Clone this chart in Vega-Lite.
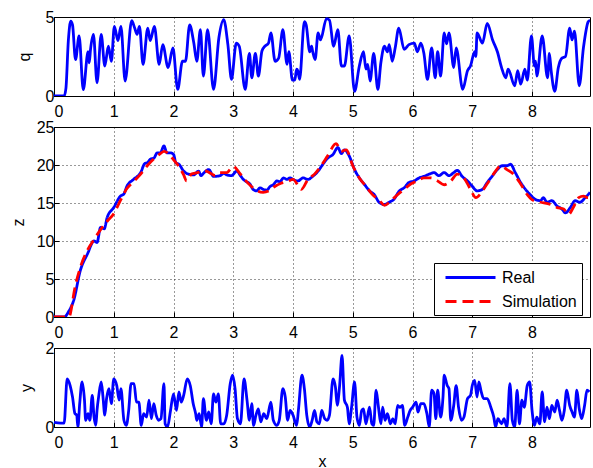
{
"$schema": "https://vega.github.io/schema/vega-lite/v6.json",
"padding": {"top": 8, "left": 9, "right": 0, "bottom": 0},
"bounds": "flush",
"spacing": 31,
"config": {
 "font": "Liberation Sans",
 "view": {"stroke": "#000000", "strokeWidth": 1},
 "axis": {"domain": false, "labelFont": "Liberation Sans", "labelFontSize": 16, "labelColor": "#000000", "titleFont": "Liberation Sans", "titleFontSize": 16, "titleFontWeight": "normal", "titleColor": "#000000", "grid": true, "gridColor": "#000000", "gridDash": [1, 3], "gridOpacity": 0.8, "tickColor": "#000000", "tickSize": -5},
 "axisX": {"labelPadding": 12},
 "axisY": {"labelPadding": 5},
 "legend": {"labelFont": "Liberation Sans", "labelFontSize": 16, "labelColor": "#000000"}
},
"datasets": {
 "q": [
  {"x":0,"q":0},{"x":0.17,"q":0},{"x":0.2,"q":0.5},{"x":0.24,"q":3.5},{"x":0.28,"q":4.73},{"x":0.31,"q":4.5},{"x":0.36,"q":2.3},{"x":0.42,"q":3.8},{"x":0.49,"q":0.4},{"x":0.57,"q":2.8},{"x":0.59,"q":2.1},{"x":0.61,"q":2.9},{"x":0.66,"q":3.9},{"x":0.72,"q":0.84},{"x":0.79,"q":3.9},{"x":0.85,"q":1.9},{"x":0.91,"q":3.15},{"x":0.96,"q":2.2},{"x":1.01,"q":4.4},{"x":1.07,"q":3.5},{"x":1.12,"q":4.4},{"x":1.19,"q":0.95},{"x":1.3,"q":4.77},{"x":1.35,"q":4.3},{"x":1.39,"q":3.9},{"x":1.43,"q":4.4},{"x":1.49,"q":2.0},{"x":1.57,"q":4.3},{"x":1.61,"q":3.5},{"x":1.68,"q":4.4},{"x":1.76,"q":2.0},{"x":1.82,"q":3.25},{"x":1.91,"q":1.8},{"x":1.99,"q":3.05},{"x":2.07,"q":0.42},{"x":2.15,"q":2.2},{"x":2.2,"q":2.2},{"x":2.27,"q":4.5},{"x":2.34,"q":3.35},{"x":2.39,"q":2.2},{"x":2.45,"q":4.2},{"x":2.5,"q":1.26},{"x":2.57,"q":4.2},{"x":2.67,"q":0.42},{"x":2.76,"q":3.7},{"x":2.84,"q":4.83},{"x":2.91,"q":3.25},{"x":2.97,"q":1.05},{"x":3.05,"q":3.35},{"x":3.1,"q":3.15},{"x":3.2,"q":0.42},{"x":3.27,"q":2.7},{"x":3.31,"q":1.15},{"x":3.37,"q":2.7},{"x":3.42,"q":1.26},{"x":3.48,"q":2.85},{"x":3.53,"q":3.15},{"x":3.59,"q":3.35},{"x":3.63,"q":4.0},{"x":3.7,"q":2.2},{"x":3.76,"q":2.4},{"x":3.83,"q":4.2},{"x":3.9,"q":2.0},{"x":3.93,"q":2.8},{"x":3.99,"q":1.0},{"x":4.03,"q":1.0},{"x":4.06,"q":1.7},{"x":4.08,"q":1.6},{"x":4.11,"q":1.05},{"x":4.19,"q":4.7},{"x":4.22,"q":4.5},{"x":4.28,"q":2.8},{"x":4.31,"q":3.15},{"x":4.33,"q":2.8},{"x":4.37,"q":2.3},{"x":4.42,"q":4.0},{"x":4.46,"q":3.55},{"x":4.56,"q":4.9},{"x":4.61,"q":4.8},{"x":4.68,"q":3.15},{"x":4.75,"q":4.2},{"x":4.81,"q":1.9},{"x":4.86,"q":1.9},{"x":4.94,"q":3.8},{"x":5.03,"q":0.3},{"x":5.11,"q":1.9},{"x":5.18,"q":2.8},{"x":5.22,"q":1.7},{"x":5.25,"q":2.0},{"x":5.29,"q":0.95},{"x":5.35,"q":2.7},{"x":5.42,"q":0.42},{"x":5.47,"q":2.1},{"x":5.53,"q":3.15},{"x":5.58,"q":2.8},{"x":5.61,"q":3.25},{"x":5.66,"q":2.2},{"x":5.71,"q":3.05},{"x":5.77,"q":4.3},{"x":5.86,"q":2.95},{"x":5.94,"q":3.25},{"x":6.03,"q":3.35},{"x":6.08,"q":2.8},{"x":6.14,"q":3.35},{"x":6.19,"q":2.7},{"x":6.25,"q":1.05},{"x":6.32,"q":3.05},{"x":6.38,"q":1.15},{"x":6.42,"q":2.8},{"x":6.47,"q":1.26},{"x":6.53,"q":4.0},{"x":6.57,"q":3.3},{"x":6.61,"q":4.0},{"x":6.69,"q":1.8},{"x":6.73,"q":3.05},{"x":6.84,"q":0.42},{"x":6.92,"q":1.6},{"x":6.97,"q":1.9},{"x":7.04,"q":2.8},{"x":7.06,"q":2.5},{"x":7.08,"q":4.0},{"x":7.17,"q":3.35},{"x":7.25,"q":4.6},{"x":7.34,"q":3.55},{"x":7.42,"q":2.8},{"x":7.49,"q":1.8},{"x":7.56,"q":1.15},{"x":7.6,"q":1.7},{"x":7.71,"q":0.65},{"x":7.76,"q":1.6},{"x":7.81,"q":0.75},{"x":7.88,"q":1.7},{"x":7.92,"q":1.0},{"x":7.99,"q":3.8},{"x":8.04,"q":1.9},{"x":8.06,"q":2.2},{"x":8.08,"q":1.26},{"x":8.17,"q":3.8},{"x":8.26,"q":1.15},{"x":8.29,"q":2.7},{"x":8.32,"q":1.6},{"x":8.38,"q":0.3},{"x":8.44,"q":1.8},{"x":8.5,"q":2.4},{"x":8.56,"q":2.5},{"x":8.63,"q":4.3},{"x":8.67,"q":3.55},{"x":8.71,"q":4.1},{"x":8.79,"q":0.65},{"x":8.86,"q":3.05},{"x":8.94,"q":4.7},{"x":8.97,"q":4.8}
 ],
 "z": [
  {"x":0,"z":0,"series":"Real"},{"x":0.17,"z":0,"series":"Real"},{"x":0.25,"z":0.8,"series":"Real"},{"x":0.33,"z":2.2,"series":"Real"},{"x":0.44,"z":6.1,"series":"Real"},{"x":0.56,"z":8.3,"series":"Real"},{"x":0.67,"z":10.0,"series":"Real"},{"x":0.72,"z":9.8,"series":"Real"},{"x":0.78,"z":11.8,"series":"Real"},{"x":0.84,"z":11.6,"series":"Real"},{"x":0.89,"z":13.1,"series":"Real"},{"x":1.0,"z":14.4,"series":"Real"},{"x":1.11,"z":15.9,"series":"Real"},{"x":1.17,"z":16.2,"series":"Real"},{"x":1.22,"z":17.2,"series":"Real"},{"x":1.33,"z":18.1,"series":"Real"},{"x":1.45,"z":19.0,"series":"Real"},{"x":1.52,"z":20.2,"series":"Real"},{"x":1.56,"z":20.3,"series":"Real"},{"x":1.62,"z":20.8,"series":"Real"},{"x":1.67,"z":20.9,"series":"Real"},{"x":1.73,"z":21.6,"series":"Real"},{"x":1.78,"z":21.6,"series":"Real"},{"x":1.84,"z":22.5,"series":"Real"},{"x":1.89,"z":21.6,"series":"Real"},{"x":1.95,"z":21.6,"series":"Real"},{"x":2.0,"z":21.4,"series":"Real"},{"x":2.04,"z":20.3,"series":"Real"},{"x":2.09,"z":20.1,"series":"Real"},{"x":2.17,"z":19.2,"series":"Real"},{"x":2.25,"z":18.8,"series":"Real"},{"x":2.34,"z":18.7,"series":"Real"},{"x":2.42,"z":19.2,"series":"Real"},{"x":2.46,"z":18.6,"series":"Real"},{"x":2.5,"z":18.9,"series":"Real"},{"x":2.59,"z":19.4,"series":"Real"},{"x":2.67,"z":18.5,"series":"Real"},{"x":2.78,"z":18.6,"series":"Real"},{"x":2.84,"z":18.9,"series":"Real"},{"x":2.89,"z":18.7,"series":"Real"},{"x":2.97,"z":18.6,"series":"Real"},{"x":3.06,"z":19.2,"series":"Real"},{"x":3.12,"z":18.6,"series":"Real"},{"x":3.17,"z":18.1,"series":"Real"},{"x":3.22,"z":17.8,"series":"Real"},{"x":3.28,"z":17.5,"series":"Real"},{"x":3.33,"z":16.8,"series":"Real"},{"x":3.39,"z":16.6,"series":"Real"},{"x":3.45,"z":17.0,"series":"Real"},{"x":3.5,"z":16.8,"series":"Real"},{"x":3.56,"z":16.7,"series":"Real"},{"x":3.62,"z":17.2,"series":"Real"},{"x":3.67,"z":17.4,"series":"Real"},{"x":3.73,"z":17.9,"series":"Real"},{"x":3.78,"z":17.8,"series":"Real"},{"x":3.84,"z":18.3,"series":"Real"},{"x":3.9,"z":18.1,"series":"Real"},{"x":3.95,"z":18.3,"series":"Real"},{"x":4.0,"z":18.1,"series":"Real"},{"x":4.08,"z":17.9,"series":"Real"},{"x":4.17,"z":18.3,"series":"Real"},{"x":4.25,"z":18.1,"series":"Real"},{"x":4.33,"z":18.5,"series":"Real"},{"x":4.42,"z":19.2,"series":"Real"},{"x":4.5,"z":20.1,"series":"Real"},{"x":4.58,"z":20.9,"series":"Real"},{"x":4.67,"z":21.4,"series":"Real"},{"x":4.75,"z":22.3,"series":"Real"},{"x":4.81,"z":21.5,"series":"Real"},{"x":4.86,"z":22.0,"series":"Real"},{"x":4.94,"z":21.2,"series":"Real"},{"x":5.03,"z":19.4,"series":"Real"},{"x":5.11,"z":18.3,"series":"Real"},{"x":5.19,"z":17.5,"series":"Real"},{"x":5.28,"z":16.6,"series":"Real"},{"x":5.36,"z":16.1,"series":"Real"},{"x":5.44,"z":15.1,"series":"Real"},{"x":5.53,"z":14.8,"series":"Real"},{"x":5.61,"z":15.1,"series":"Real"},{"x":5.69,"z":15.5,"series":"Real"},{"x":5.78,"z":16.6,"series":"Real"},{"x":5.86,"z":17.0,"series":"Real"},{"x":5.94,"z":17.7,"series":"Real"},{"x":6.03,"z":17.9,"series":"Real"},{"x":6.11,"z":18.3,"series":"Real"},{"x":6.19,"z":18.5,"series":"Real"},{"x":6.28,"z":18.8,"series":"Real"},{"x":6.36,"z":19.0,"series":"Real"},{"x":6.44,"z":18.6,"series":"Real"},{"x":6.53,"z":19.0,"series":"Real"},{"x":6.61,"z":18.6,"series":"Real"},{"x":6.69,"z":19.0,"series":"Real"},{"x":6.75,"z":19.3,"series":"Real"},{"x":6.83,"z":18.5,"series":"Real"},{"x":6.92,"z":17.9,"series":"Real"},{"x":7.0,"z":17.2,"series":"Real"},{"x":7.08,"z":16.6,"series":"Real"},{"x":7.17,"z":16.8,"series":"Real"},{"x":7.25,"z":17.7,"series":"Real"},{"x":7.33,"z":18.5,"series":"Real"},{"x":7.42,"z":19.4,"series":"Real"},{"x":7.5,"z":19.9,"series":"Real"},{"x":7.58,"z":19.9,"series":"Real"},{"x":7.64,"z":20.1,"series":"Real"},{"x":7.72,"z":19.0,"series":"Real"},{"x":7.81,"z":17.7,"series":"Real"},{"x":7.89,"z":16.8,"series":"Real"},{"x":7.97,"z":16.1,"series":"Real"},{"x":8.05,"z":15.5,"series":"Real"},{"x":8.14,"z":15.3,"series":"Real"},{"x":8.19,"z":15.7,"series":"Real"},{"x":8.25,"z":15.1,"series":"Real"},{"x":8.33,"z":15.3,"series":"Real"},{"x":8.42,"z":14.6,"series":"Real"},{"x":8.5,"z":14.2,"series":"Real"},{"x":8.56,"z":13.7,"series":"Real"},{"x":8.64,"z":14.4,"series":"Real"},{"x":8.72,"z":15.3,"series":"Real"},{"x":8.8,"z":15.1,"series":"Real"},{"x":8.89,"z":15.7,"series":"Real"},{"x":8.97,"z":16.4,"series":"Real"},
  {"x":0,"z":0,"series":"Simulation"},{"x":0.25,"z":0,"series":"Simulation"},{"x":0.3,"z":1.5,"series":"Simulation"},{"x":0.33,"z":3.0,"series":"Simulation"},{"x":0.44,"z":6.5,"series":"Simulation"},{"x":0.56,"z":8.8,"series":"Simulation"},{"x":0.67,"z":10.2,"series":"Simulation"},{"x":0.78,"z":11.5,"series":"Simulation"},{"x":0.89,"z":12.6,"series":"Simulation"},{"x":1.0,"z":13.6,"series":"Simulation"},{"x":1.11,"z":15.3,"series":"Simulation"},{"x":1.22,"z":16.9,"series":"Simulation"},{"x":1.33,"z":17.8,"series":"Simulation"},{"x":1.45,"z":18.8,"series":"Simulation"},{"x":1.56,"z":19.9,"series":"Simulation"},{"x":1.67,"z":20.8,"series":"Simulation"},{"x":1.78,"z":21.5,"series":"Simulation"},{"x":1.84,"z":21.8,"series":"Simulation"},{"x":1.95,"z":21.2,"series":"Simulation"},{"x":2.0,"z":20.7,"series":"Simulation"},{"x":2.09,"z":19.8,"series":"Simulation"},{"x":2.17,"z":18.7,"series":"Simulation"},{"x":2.22,"z":17.9,"series":"Simulation"},{"x":2.3,"z":18.8,"series":"Simulation"},{"x":2.4,"z":19.0,"series":"Simulation"},{"x":2.5,"z":19.3,"series":"Simulation"},{"x":2.6,"z":19.0,"series":"Simulation"},{"x":2.7,"z":18.6,"series":"Simulation"},{"x":2.78,"z":19.0,"series":"Simulation"},{"x":2.89,"z":19.0,"series":"Simulation"},{"x":3.0,"z":19.8,"series":"Simulation"},{"x":3.1,"z":19.0,"series":"Simulation"},{"x":3.2,"z":18.0,"series":"Simulation"},{"x":3.3,"z":17.2,"series":"Simulation"},{"x":3.4,"z":16.6,"series":"Simulation"},{"x":3.5,"z":16.4,"series":"Simulation"},{"x":3.6,"z":16.6,"series":"Simulation"},{"x":3.7,"z":17.2,"series":"Simulation"},{"x":3.8,"z":17.6,"series":"Simulation"},{"x":3.9,"z":17.8,"series":"Simulation"},{"x":4.0,"z":18.1,"series":"Simulation"},{"x":4.14,"z":16.8,"series":"Simulation"},{"x":4.25,"z":18.1,"series":"Simulation"},{"x":4.36,"z":18.8,"series":"Simulation"},{"x":4.47,"z":19.9,"series":"Simulation"},{"x":4.58,"z":21.2,"series":"Simulation"},{"x":4.72,"z":22.8,"series":"Simulation"},{"x":4.81,"z":21.8,"series":"Simulation"},{"x":4.89,"z":22.0,"series":"Simulation"},{"x":5.0,"z":19.9,"series":"Simulation"},{"x":5.11,"z":18.3,"series":"Simulation"},{"x":5.22,"z":17.2,"series":"Simulation"},{"x":5.33,"z":16.1,"series":"Simulation"},{"x":5.44,"z":15.4,"series":"Simulation"},{"x":5.53,"z":14.7,"series":"Simulation"},{"x":5.64,"z":15.3,"series":"Simulation"},{"x":5.75,"z":16.1,"series":"Simulation"},{"x":5.86,"z":16.8,"series":"Simulation"},{"x":5.97,"z":17.5,"series":"Simulation"},{"x":6.08,"z":17.9,"series":"Simulation"},{"x":6.19,"z":18.3,"series":"Simulation"},{"x":6.31,"z":18.3,"series":"Simulation"},{"x":6.42,"z":17.9,"series":"Simulation"},{"x":6.53,"z":17.4,"series":"Simulation"},{"x":6.64,"z":17.9,"series":"Simulation"},{"x":6.75,"z":18.8,"series":"Simulation"},{"x":6.86,"z":18.3,"series":"Simulation"},{"x":6.97,"z":16.8,"series":"Simulation"},{"x":7.06,"z":15.7,"series":"Simulation"},{"x":7.17,"z":16.6,"series":"Simulation"},{"x":7.28,"z":17.9,"series":"Simulation"},{"x":7.39,"z":19.2,"series":"Simulation"},{"x":7.47,"z":19.9,"series":"Simulation"},{"x":7.58,"z":19.4,"series":"Simulation"},{"x":7.69,"z":18.8,"series":"Simulation"},{"x":7.81,"z":17.5,"series":"Simulation"},{"x":7.92,"z":16.1,"series":"Simulation"},{"x":8.03,"z":15.3,"series":"Simulation"},{"x":8.14,"z":15.1,"series":"Simulation"},{"x":8.31,"z":14.8,"series":"Simulation"},{"x":8.42,"z":14.4,"series":"Simulation"},{"x":8.53,"z":14.2,"series":"Simulation"},{"x":8.61,"z":13.5,"series":"Simulation"},{"x":8.69,"z":14.4,"series":"Simulation"},{"x":8.78,"z":15.7,"series":"Simulation"},{"x":8.86,"z":15.9,"series":"Simulation"},{"x":8.94,"z":15.7,"series":"Simulation"},{"x":8.97,"z":15.8,"series":"Simulation"}
 ],
 "y": [
  {"x":0,"y":0.12},{"x":0.11,"y":0.1},{"x":0.17,"y":0.1},{"x":0.22,"y":1.22},{"x":0.27,"y":1.05},{"x":0.31,"y":0.76},{"x":0.35,"y":0.34},{"x":0.38,"y":0.3},{"x":0.4,"y":0.0},{"x":0.43,"y":0.59},{"x":0.47,"y":1.14},{"x":0.51,"y":0.68},{"x":0.53,"y":0.17},{"x":0.57,"y":0.34},{"x":0.6,"y":0.17},{"x":0.64,"y":0.8},{"x":0.67,"y":0.25},{"x":0.7,"y":0.04},{"x":0.72,"y":0.42},{"x":0.75,"y":0.8},{"x":0.79,"y":1.14},{"x":0.82,"y":0.76},{"x":0.85,"y":0.3},{"x":0.88,"y":0.72},{"x":0.92,"y":0.97},{"x":0.96,"y":0.59},{"x":1.0,"y":1.22},{"x":1.05,"y":1.05},{"x":1.09,"y":0.68},{"x":1.12,"y":0.97},{"x":1.17,"y":0.17},{"x":1.21,"y":0.04},{"x":1.25,"y":0.42},{"x":1.29,"y":1.1},{"x":1.34,"y":1.1},{"x":1.38,"y":0.63},{"x":1.42,"y":0.63},{"x":1.46,"y":0.04},{"x":1.5,"y":0.34},{"x":1.55,"y":0.25},{"x":1.59,"y":0.68},{"x":1.63,"y":0.21},{"x":1.67,"y":0.59},{"x":1.71,"y":0.3},{"x":1.75,"y":0.17},{"x":1.79,"y":0.21},{"x":1.84,"y":1.1},{"x":1.86,"y":0.08},{"x":1.9,"y":0.0},{"x":1.95,"y":0.42},{"x":2.0,"y":0.84},{"x":2.05,"y":0.42},{"x":2.09,"y":0.89},{"x":2.13,"y":0.63},{"x":2.17,"y":0.8},{"x":2.23,"y":1.22},{"x":2.28,"y":1.05},{"x":2.33,"y":0.59},{"x":2.37,"y":0.34},{"x":2.39,"y":0.17},{"x":2.43,"y":0.34},{"x":2.47,"y":0.0},{"x":2.5,"y":0.72},{"x":2.55,"y":0.17},{"x":2.59,"y":0.38},{"x":2.63,"y":0.08},{"x":2.67,"y":0.84},{"x":2.71,"y":0.63},{"x":2.75,"y":0.84},{"x":2.79,"y":0.08},{"x":2.84,"y":0.08},{"x":2.89,"y":0.3},{"x":2.95,"y":1.1},{"x":2.99,"y":1.31},{"x":3.03,"y":0.97},{"x":3.07,"y":0.21},{"x":3.12,"y":0.08},{"x":3.18,"y":1.22},{"x":3.23,"y":0.68},{"x":3.27,"y":0.17},{"x":3.31,"y":0.59},{"x":3.34,"y":0.04},{"x":3.38,"y":0.3},{"x":3.42,"y":0.46},{"x":3.46,"y":0.13},{"x":3.51,"y":0.34},{"x":3.56,"y":0.21},{"x":3.63,"y":0.63},{"x":3.67,"y":0.17},{"x":3.73,"y":0.04},{"x":3.77,"y":0.17},{"x":3.83,"y":0.97},{"x":3.87,"y":0.76},{"x":3.91,"y":0.17},{"x":3.95,"y":0.42},{"x":4.0,"y":0.3},{"x":4.06,"y":0.04},{"x":4.09,"y":0.42},{"x":4.15,"y":1.31},{"x":4.19,"y":0.97},{"x":4.23,"y":0.3},{"x":4.28,"y":0.0},{"x":4.32,"y":0.17},{"x":4.36,"y":0.42},{"x":4.4,"y":0.13},{"x":4.44,"y":0.08},{"x":4.48,"y":0.42},{"x":4.53,"y":0.21},{"x":4.57,"y":0.17},{"x":4.61,"y":0.3},{"x":4.67,"y":1.22},{"x":4.71,"y":1.01},{"x":4.74,"y":0.55},{"x":4.78,"y":1.05},{"x":4.82,"y":1.81},{"x":4.86,"y":0.68},{"x":4.91,"y":0.5},{"x":4.94,"y":0.08},{"x":4.98,"y":0.5},{"x":5.03,"y":1.14},{"x":5.07,"y":0.25},{"x":5.11,"y":0.04},{"x":5.15,"y":0.42},{"x":5.18,"y":0.46},{"x":5.22,"y":0.08},{"x":5.28,"y":0.5},{"x":5.32,"y":0.08},{"x":5.35,"y":0.04},{"x":5.39,"y":0.93},{"x":5.43,"y":0.5},{"x":5.47,"y":0.08},{"x":5.5,"y":0.5},{"x":5.54,"y":0.17},{"x":5.58,"y":0.34},{"x":5.63,"y":0.08},{"x":5.67,"y":0.21},{"x":5.71,"y":0.08},{"x":5.75,"y":0.55},{"x":5.79,"y":0.5},{"x":5.83,"y":0.55},{"x":5.87,"y":0.04},{"x":5.92,"y":0.25},{"x":5.96,"y":0.42},{"x":6.0,"y":0.5},{"x":6.06,"y":0.63},{"x":6.09,"y":0.38},{"x":6.14,"y":0.59},{"x":6.19,"y":0.59},{"x":6.24,"y":0.34},{"x":6.28,"y":0.0},{"x":6.32,"y":0.93},{"x":6.36,"y":0.84},{"x":6.39,"y":0.21},{"x":6.42,"y":0.93},{"x":6.47,"y":0.25},{"x":6.51,"y":0.76},{"x":6.53,"y":1.31},{"x":6.58,"y":1.05},{"x":6.61,"y":0.97},{"x":6.64,"y":0.17},{"x":6.69,"y":0.55},{"x":6.73,"y":1.05},{"x":6.77,"y":0.5},{"x":6.82,"y":0.17},{"x":6.86,"y":0.25},{"x":6.92,"y":0.72},{"x":6.97,"y":0.8},{"x":7.0,"y":1.05},{"x":7.04,"y":1.18},{"x":7.08,"y":0.76},{"x":7.11,"y":1.14},{"x":7.15,"y":0.89},{"x":7.19,"y":0.72},{"x":7.25,"y":0.72},{"x":7.31,"y":0.5},{"x":7.36,"y":0.25},{"x":7.39,"y":0.0},{"x":7.43,"y":0.21},{"x":7.49,"y":0.08},{"x":7.53,"y":0.21},{"x":7.58,"y":0.0},{"x":7.63,"y":1.1},{"x":7.67,"y":0.17},{"x":7.71,"y":0.0},{"x":7.75,"y":0.93},{"x":7.79,"y":0.08},{"x":7.83,"y":0.68},{"x":7.87,"y":0.5},{"x":7.92,"y":1.05},{"x":7.96,"y":1.14},{"x":8.0,"y":0.42},{"x":8.04,"y":0.04},{"x":8.08,"y":0.25},{"x":8.13,"y":0.08},{"x":8.17,"y":0.89},{"x":8.21,"y":0.13},{"x":8.25,"y":0.5},{"x":8.29,"y":0.21},{"x":8.33,"y":0.55},{"x":8.38,"y":0.38},{"x":8.42,"y":0.68},{"x":8.46,"y":0.42},{"x":8.5,"y":0.17},{"x":8.54,"y":0.42},{"x":8.58,"y":0.93},{"x":8.63,"y":0.55},{"x":8.67,"y":0.38},{"x":8.71,"y":0.25},{"x":8.75,"y":0.93},{"x":8.79,"y":0.46},{"x":8.83,"y":0.21},{"x":8.88,"y":0.55},{"x":8.92,"y":0.93},{"x":8.96,"y":0.89}
 ]
},
"vconcat": [
 {
  "width": 536, "height": 79,
  "data": {"name": "q"},
  "mark": {"type": "line", "color": "#0000ff", "strokeWidth": 2.8, "interpolate": "monotone", "clip": true},
  "encoding": {
   "x": {"field": "x", "type": "quantitative", "scale": {"domain": [0, 8.97], "nice": false, "zero": false}, "axis": {"values": [0,1,2,3,4,5,6,7,8], "title": null}},
   "y": {"field": "q", "type": "quantitative", "scale": {"domain": [0, 5], "nice": false}, "axis": {"values": [0, 5], "format": "d", "title": "q", "titlePadding": 13}}
  }
 },
 {
  "width": 536, "height": 190,
  "data": {"name": "z"},
  "mark": {"type": "line", "strokeWidth": 2.8, "interpolate": "monotone", "clip": true},
  "encoding": {
   "x": {"field": "x", "type": "quantitative", "scale": {"domain": [0, 8.97], "nice": false, "zero": false}, "axis": {"values": [0,1,2,3,4,5,6,7,8], "title": null}},
   "y": {"field": "z", "type": "quantitative", "scale": {"domain": [0, 25], "nice": false}, "axis": {"values": [0,5,10,15,20,25], "format": "d", "title": "z", "titlePadding": 10}},
   "color": {"field": "series", "type": "nominal", "scale": {"domain": ["Real", "Simulation"], "range": ["#0000ff", "#ff0000"]},
     "legend": {"title": null, "orient": "none", "legendX": 380, "legendY": 246, "strokeColor": "#000000", "fillColor": "#ffffff", "padding": 5, "rowPadding": 6, "symbolType": "M-0.375,0H5.875", "symbolSize": 256, "symbolStrokeWidth": 2.8, "labelOffset": 44, "labelFontSize": 16}},
   "strokeDash": {"field": "series", "type": "nominal", "scale": {"domain": ["Real", "Simulation"], "range": [[1, 0], [11, 6]]},
     "legend": {"title": null, "orient": "none", "legendX": 380, "legendY": 246, "strokeColor": "#000000", "fillColor": "#ffffff", "padding": 5, "rowPadding": 6, "symbolType": "M-0.375,0H5.875", "symbolSize": 256, "symbolStrokeWidth": 2.8, "labelOffset": 44, "labelFontSize": 16}}
  }
 },
 {
  "width": 536, "height": 79,
  "data": {"name": "y"},
  "mark": {"type": "line", "color": "#0000ff", "strokeWidth": 2.8, "interpolate": "monotone", "clip": true},
  "encoding": {
   "x": {"field": "x", "type": "quantitative", "scale": {"domain": [0, 8.97], "nice": false, "zero": false}, "axis": {"values": [0,1,2,3,4,5,6,7,8], "title": "x", "titlePadding": 3}},
   "y": {"field": "y", "type": "quantitative", "scale": {"domain": [0, 2], "nice": false}, "axis": {"values": [0, 1, 2], "format": "d", "title": "y", "titlePadding": 11}}
  }
 }
]
}
